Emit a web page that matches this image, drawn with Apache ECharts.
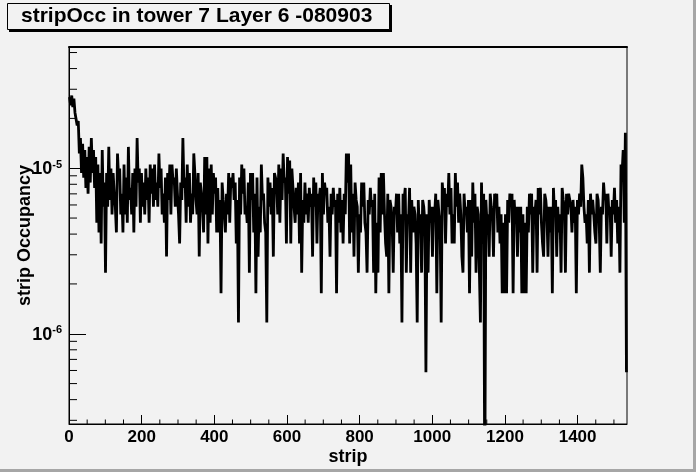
<!DOCTYPE html>
<html>
<head>
    <meta charset="utf-8">
    <title>stripOcc in tower 7 Layer 6 -080903</title>
    <script src="https://cdn.jsdelivr.net/npm/echarts@6/dist/echarts.min.js"></script>
    <style>
        html, body { margin: 0; padding: 0; background: #f2f2f2; }
        #chart1 { width: 696px; height: 472px; }
    </style>
</head>
<body>
<div id="chart1"></div>
<script type="text/javascript">
    // hits, per group of 6 strips: top of the trace, then bottom of the trace
    var peakHits = [
        46,47,45,36,33,26,24,22, 20,23,26,22,20,18,16,22, 14,16,23,17,16,10,21,17, 12,18,15,23,13,16,17,26,
        17,16,14,17,15,18,17,18, 14,21,17,12,15,16,18,18, 15,17,9,14,26,15,18,16, 12,21,11,16,14,10,20,20,
        17,18,16,15,13,11,14,9, 12,16,15,16,14,11,15,18, 17,10,14,16,16,12,15,10, 18,12,7,15,14,13,16,14,
        18,17,21,15,20,19,17,10, 13,14,16,11,14,12,13,12, 15,14,12,13,16,14,13,10, 12,13,11,12,13,11,12,21,
        21,18,12,14,10,9,14,14, 7,11,13,11,12,8,15,16, 16,6,12,11,8,10,12,12, 9,12,13,9,13,11,10,6,
        11,9,11,8,9,11,10,10, 12,11,8,14,13,12,16,13, 9,16,14,12,5,12,10,11, 11,14,12,10,9,14,12,11,
        9,12,9,12,12,10,9,8, 9,11,12,12,11,10,10,10, 9,8,10,12,12,10,11,13, 13,6,12,9,10,10,13,11,
        10,9,13,10,12,12,10,11, 10,11,12,18,10,9,11,12, 11,7,12,8,10,14,12,12, 10,11,13,11,10,18,22,28
    ];
    var dipHits = [
        41,40,37,31,21,16,15,13, 12,14,16,13,8,7,6,10, 4,10,11,9,12,7,15,9, 7,9,8,11,9,7,10,14,
        8,10,9,11,8,12,10,11, 10,13,9,8,5,11,9,14, 10,12,6,11,13,8,10,8, 9,16,9,5,12,7,9,6,
        8,9,12,7,7,3,11,7, 9,8,13,11,6,2,9,12, 9,8,4,11,7,3,5,7, 11,8,2,10,9,5,16,9,
        8,11,14,6,12,6,13,8, 9,6,4,8,9,8,10,5, 10,6,11,3,9,12,8,5, 9,10,3,8,7,6,9,14,
        6,7,5,11,4,7,10,8, 4,9,10,4,3,4,7,9, 9,5,3,10,4,9,7,6, 2,11,4,8,4,7,9,2,
        7,4,10,1,4,8,5,9, 3,9,2,11,6,10,9,6, 6,10,8,9,4,9,7,3, 5,8,4,9,2,6,0,8,
        5,10,5,11,7,6,3,3, 3,8,10,3,8,5,7,3, 3,3,7,9,4,9,4,9, 8,5,11,5,7,3,9,5,
        7,4,11,4,9,11,7,8, 3,9,10,15,8,6,4,9, 9,6,11,4,9,11,6,9, 5,9,8,6,4,16,8,1
    ];
    var STRIPS_PER_GROUP = 6;
    var OCC_PER_HIT = 5.85e-7;      // one hit = lowest non-zero level in the plot
    var X_MIN = 0, X_MAX = 1536;
    var Y_MIN = 2.85e-7, Y_MAX = 5.4e-5;
    var Y_FLOOR = 1e-7;             // empty strips drop below the frame like in ROOT

    var xMinorTicks = [50, 100, 150, 250, 300, 350, 450, 500, 550, 650, 700, 750,
        850, 900, 950, 1050, 1100, 1150, 1250, 1300, 1350, 1450, 1500];
    var yMinorTicks = [3e-7, 4e-7, 5e-7, 6e-7, 7e-7, 8e-7, 9e-7,
        2e-6, 3e-6, 4e-6, 5e-6, 6e-6, 7e-6, 8e-6, 9e-6,
        2e-5, 3e-5, 4e-5, 5e-5];

    var font = '"Liberation Sans", Arial, Helvetica, sans-serif';

    function toOcc(h) {
        return h > 0 ? h * OCC_PER_HIT : Y_FLOOR;
    }
    var lineData = [];
    peakHits.forEach(function (h, g) {
        var s = g * STRIPS_PER_GROUP;
        lineData.push([s + 1.5, toOcc(h)]);
        lineData.push([s + 4.5, toOcc(dipHits[g])]);
    });
    var tickData = [];
    xMinorTicks.forEach(function (v) { tickData.push([v, Y_MIN, 0]); });
    yMinorTicks.forEach(function (v) { tickData.push([X_MIN, v, 1]); });

    var myChart1 = echarts.init(document.getElementById('chart1'));
    var options = {
        animation: false,
        backgroundColor: '#f2f2f2',
        graphic: [
            // canvas bevel
            { type: 'rect', right: 0, top: 0, shape: { width: 3, height: 472 }, style: { fill: '#a6a6a6' } },
            { type: 'rect', left: 0, bottom: 0, shape: { width: 696, height: 3 }, style: { fill: '#a6a6a6' } },
            // title box with shadow
            { type: 'rect', left: 9, top: 5, shape: { width: 383, height: 27 }, style: { fill: '#000' } },
            { type: 'rect', left: 7, top: 3, shape: { width: 382, height: 26 }, style: { fill: '#f2f2f2', stroke: '#000', lineWidth: 1 } },
            {
                type: 'text', left: 21, top: 6,
                style: { text: 'stripOcc in tower 7 Layer 6 -080903', font: 'bold 21px ' + font, fill: '#000' }
            }
        ],
        grid: {
            left: 69, right: 69, top: 47, bottom: 48,
            containLabel: false, outerBoundsMode: 'none',
            show: true, borderColor: '#000', borderWidth: 1, backgroundColor: 'transparent'
        },
        xAxis: [{
            type: 'value',
            min: X_MIN, max: X_MAX, interval: 200,
            name: 'strip', nameLocation: 'middle', nameGap: 24, nameMoveOverlap: false,
            nameTextStyle: { fontFamily: font, fontWeight: 'bold', fontSize: 18, color: '#000' },
            axisLine: { show: true, lineStyle: { color: '#000', width: 1 } },
            axisTick: { show: true, inside: true, length: 9, lineStyle: { color: '#000' } },
            axisLabel: {
                showMaxLabel: false, margin: 5,
                formatter: function (v) { return String(v); },
                fontFamily: font, fontWeight: 'bold', fontSize: 17, color: '#000'
            },
            splitLine: { show: false }
        }, {
            type: 'value', position: 'top',
            min: X_MIN, max: X_MAX,
            axisLine: { show: true, lineStyle: { color: '#000', width: 2 } },
            axisTick: { show: false }, axisLabel: { show: false }, splitLine: { show: false }
        }],
        yAxis: {
            type: 'log', logBase: 10,
            min: Y_MIN, max: Y_MAX,
            name: 'strip Occupancy', nameLocation: 'middle', nameGap: 35, nameMoveOverlap: false,
            nameTextStyle: { fontFamily: font, fontWeight: 'bold', fontSize: 18, color: '#000' },
            axisLine: { show: true, lineStyle: { color: '#000', width: 1 } },
            axisTick: { show: true, inside: true, length: 17, lineStyle: { color: '#000' } },
            axisLabel: {
                showMinLabel: false, showMaxLabel: false, margin: 7,
                formatter: function (v) {
                    var e = Math.round(Math.log10(v));
                    if (Math.abs(Math.log10(v) - e) > 1e-6) return '';
                    return '{b|10}{s|' + e + '}';
                },
                rich: {
                    b: { fontFamily: font, fontWeight: 'bold', fontSize: 18, lineHeight: 20, verticalAlign: 'bottom', color: '#000' },
                    s: { fontFamily: font, fontWeight: 'bold', fontSize: 11, lineHeight: 20, verticalAlign: 'top', padding: [1, 0, 0, 0], color: '#000' }
                }
            },
            splitLine: { show: false }
        },
        series: [{
            name: 'minor ticks',
            type: 'custom',
            silent: true,
            z: 1,
            data: tickData,
            renderItem: function (params, api) {
                var p = api.coord([api.value(0), api.value(1)]);
                var horiz = api.value(2) === 1;
                return {
                    type: 'line',
                    shape: horiz
                        ? { x1: p[0], y1: p[1], x2: p[0] + 8, y2: p[1] }
                        : { x1: p[0], y1: p[1], x2: p[0], y2: p[1] - 4.5 },
                    style: { stroke: '#000', lineWidth: 1 }
                };
            }
        }, {
            name: 'stripOcc',
            type: 'line',
            z: 3,
            data: lineData,
            showSymbol: false,
            sampling: false,
            clip: true,
            lineStyle: { color: '#000', width: 2.8 }
        }]
    };
    myChart1.setOption(options);
</script>
</body>
</html>
